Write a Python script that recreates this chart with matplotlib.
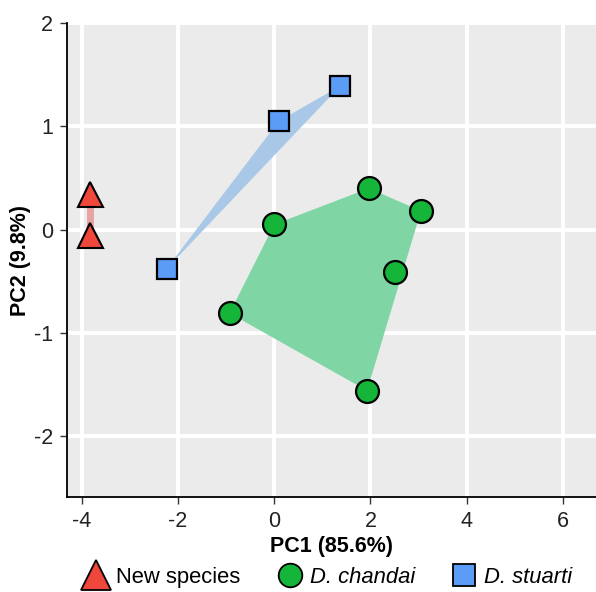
import numpy as np
import matplotlib
matplotlib.use("Agg")
from matplotlib import pyplot as plt
from matplotlib.lines import Line2D

plt.rcParams['font.family'] = ['Liberation Sans', 'DejaVu Sans']
plt.rcParams['axes.unicode_minus'] = False

# PCA scores
new_pc1 = [-3.83, -3.83]
new_pc2 = [0.34, -0.05]

chandai_pc1 = [0.0, 1.97, 3.05, 2.51, 1.93, -0.93]
chandai_pc2 = [0.05, 0.40, 0.18, -0.41, -1.56, -0.81]

stuarti_pc1 = [-2.24, 0.09, 1.37]
stuarti_pc2 = [-0.38, 1.05, 1.39]

x_ticks = [-4, -2, 0, 2, 4, 6]
y_ticks = [-2, -1, 0, 1, 2]


def hull(xs, ys):
    # monotone chain convex hull
    pts = sorted(set(zip(xs, ys)))
    if len(pts) < 3:
        return pts

    def cross(o, a, b):
        return (a[0]-o[0])*(b[1]-o[1]) - (a[1]-o[1])*(b[0]-o[0])
    lower = []
    for p in pts:
        while len(lower) >= 2 and cross(lower[-2], lower[-1], p) <= 0:
            lower.pop()
        lower.append(p)
    upper = []
    for p in reversed(pts):
        while len(upper) >= 2 and cross(upper[-2], upper[-1], p) <= 0:
            upper.pop()
        upper.append(p)
    return lower[:-1] + upper[:-1]


fig = plt.figure(figsize=(5.96, 5.92), dpi=100)
ax = fig.add_axes([0.1124, 0.1605, 0.8876, 0.8005])
ax.set_facecolor('#ebebeb')

# hulls
h = hull(stuarti_pc1, stuarti_pc2)
ax.fill([p[0] for p in h], [p[1] for p in h], color='#a9c8e8', zorder=2, lw=0)
h = hull(chandai_pc1, chandai_pc2)
ax.fill([p[0] for p in h], [p[1] for p in h], color='#7fd6a4', zorder=2, lw=0)
ax.plot(new_pc1, new_pc2, color='#e8a3a3', lw=5, zorder=2, solid_capstyle='butt')

ax.plot(new_pc1, new_pc2, ls='none', marker='^', ms=18, mfc='#f0473c',
        mec='black', mew=1.5, zorder=4)
ax.plot(chandai_pc1, chandai_pc2, ls='none', marker='o', ms=16.5, mfc='#15b53a',
        mec='black', mew=1.6, zorder=4)
ax.plot(stuarti_pc1, stuarti_pc2, ls='none', marker='s', ms=15, mfc='#5b9cf7',
        mec='black', mew=1.6, zorder=4)

ax.set_xlim(-4.31, 6.69)
ax.set_ylim(-2.59, 2.0)
ax.set_xticks(x_ticks)
ax.set_yticks(y_ticks)
ax.grid(True, color='white', lw=2.8, zorder=1)
ax.set_axisbelow(True)
for s in ['top', 'right']:
    ax.spines[s].set_visible(False)
for s in ['left', 'bottom']:
    ax.spines[s].set_linewidth(1.3)
ax.tick_params(labelsize=15.5, length=5, width=1.0, colors='#333333',
               labelcolor='#222222', pad=5)

ax.set_xlabel('PC1 (85.6%)', fontsize=15.5, fontweight='bold', labelpad=3)
ax.set_ylabel('PC2 (9.8%)', fontsize=15.5, fontweight='bold', labelpad=2)

handles = [
    Line2D([], [], ls='none', marker='^', ms=22, mfc='#f0473c', mec='black', mew=1.3),
    Line2D([], [], ls='none', marker='o', ms=17, mfc='#15b53a', mec='black', mew=1.3),
    Line2D([], [], ls='none', marker='s', ms=16.5, mfc='#5b9cf7', mec='black', mew=1.3),
]
leg = fig.legend(handles, ['New species', 'D. chandai', 'D. stuarti'],
                 loc='center', bbox_to_anchor=(0.548, 0.025), ncol=3, frameon=False,
                 fontsize=15.8, handletextpad=0.2, columnspacing=1.55, handlelength=1.4,
                 borderpad=0, borderaxespad=0)
for t in leg.get_texts()[1:]:
    t.set_fontstyle('italic')

fig.savefig('out.png', dpi=100)
